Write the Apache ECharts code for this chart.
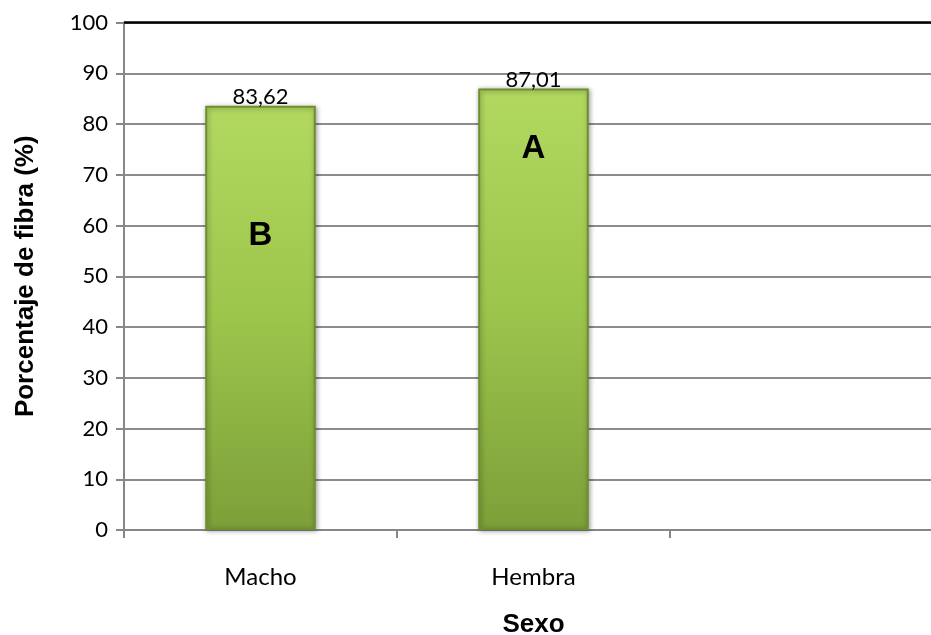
<!DOCTYPE html>
<html>
<head>
<meta charset="utf-8">
<script src="https://cdn.jsdelivr.net/npm/echarts@6/dist/echarts.min.js"></script>
<style>
  html, body { margin: 0; padding: 0; background: #fff; overflow: hidden; }
  #wrap { width: 931px; height: 635px; overflow: hidden; }
  /* the plot runs a little past the right edge of the page */
  #chart { width: 943px; height: 635px; }
</style>
</head>
<body>
<div id="wrap"><div id="chart"></div></div>
<script>
// Fibre percentage by sex
const categories = ['Macho', 'Hembra', ''];
const fibra = [83.62, 87.01];
const letterText = ['B', 'A'];
const letterAt = [58, 75];
const yTicks = { min: 0, max: 100, interval: 10 };

const bodyFont = 'Lato, "Noto Sans", sans-serif';
const boldFont = '"Liberation Sans", Arial, sans-serif';

const barFill = new echarts.graphic.LinearGradient(0, 0, 0, 1, [
  { offset: 0, color: '#b2d860' },
  { offset: 0.5, color: '#9cc54c' },
  { offset: 1, color: '#7d9f39' }
]);

const chart = echarts.init(document.getElementById('chart'), null, { renderer: 'canvas' });

chart.setOption({
  animation: false,
  backgroundColor: '#ffffff',
  grid: {
    left: 124, top: 22.5, right: 0, height: 507.5,
    containLabel: false, outerBoundsMode: 'none'
  },
  xAxis: {
    type: 'category',
    data: categories,
    boundaryGap: true,
    name: 'Sexo',
    nameLocation: 'middle',
    nameGap: 82,
    nameTextStyle: { fontFamily: boldFont, fontWeight: 'bold', fontSize: 26, color: '#000' },
    axisLine: { lineStyle: { color: '#878787', width: 2 } },
    axisTick: { show: true, length: 8, alignWithLabel: false, lineStyle: { color: '#878787', width: 2 } },
    axisLabel: { fontFamily: bodyFont, fontSize: 24, color: '#000', margin: 35 },
    splitLine: { show: false }
  },
  yAxis: {
    type: 'value',
    min: yTicks.min,
    max: yTicks.max,
    interval: yTicks.interval,
    name: 'Porcentaje de fibra (%)',
    nameLocation: 'middle',
    nameGap: 85,
    nameRotate: 90,
    nameTextStyle: { fontFamily: boldFont, fontWeight: 'bold', fontSize: 26, color: '#000' },
    axisLine: { show: true, lineStyle: { color: '#878787', width: 2 } },
    axisTick: { show: true, length: 8, lineStyle: { color: '#878787', width: 2 } },
    axisLabel: { fontFamily: bodyFont, fontSize: 22, color: '#000', margin: 16 },
    splitLine: { show: true, lineStyle: { color: '#8c8c8c', width: 2 } }
  },
  series: [{
    type: 'bar',
    data: fibra,
    barWidth: '40.5%',
    itemStyle: {
      color: barFill,
      borderColor: '#6e8f30',
      borderWidth: 2,
      shadowColor: 'rgba(0,0,0,0.35)',
      shadowBlur: 5,
      shadowOffsetX: 1,
      shadowOffsetY: 1
    },
    label: {
      show: true,
      position: 'top',
      distance: -2,
      fontFamily: bodyFont,
      fontSize: 22,
      color: '#000',
      formatter: p => p.value.toFixed(2).replace('.', ',')
    },
    markPoint: {
      symbol: 'circle',
      symbolSize: 0,
      silent: true,
      label: {
        show: true,
        position: 'inside',
        fontFamily: boldFont,
        fontWeight: 'bold',
        fontSize: 33,
        color: '#000',
        formatter: p => p.name
      },
      data: letterText.map((t, i) => ({ name: t, coord: [i, letterAt[i]] }))
    }
  }],
  graphic: [{
    type: 'line',
    z: 100,
    shape: { x1: 124, y1: 22.5, x2: 943, y2: 22.5 },
    style: { stroke: '#000', lineWidth: 2.5 }
  }]
});
</script>
</body>
</html>
